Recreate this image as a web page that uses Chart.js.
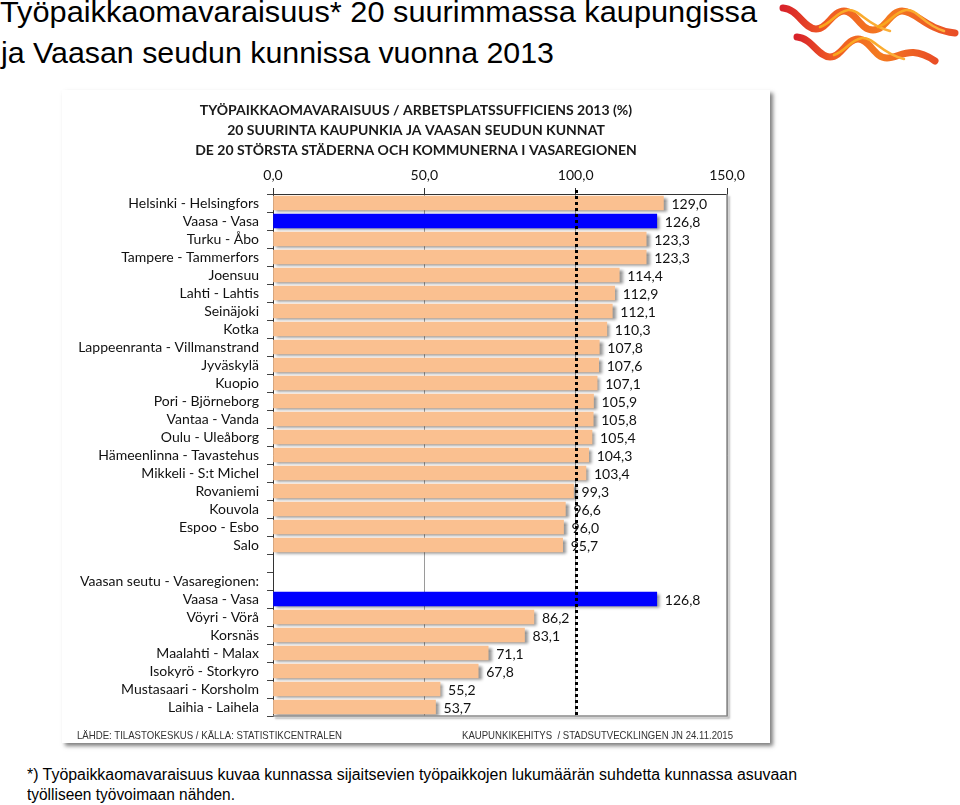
<!DOCTYPE html>
<html><head><meta charset="utf-8">
<script src="https://cdn.jsdelivr.net/npm/chart.js@4.4.1/dist/chart.umd.min.js"></script>
<style>
html,body{margin:0;padding:0;background:#fff;}
body{width:960px;height:805px;position:relative;overflow:hidden;font-family:"Liberation Sans",Arial,sans-serif;}
.t{position:absolute;white-space:nowrap;transform-origin:0 50%;line-height:1;z-index:3;}
#panel{position:absolute;left:62px;top:90px;width:708px;height:653px;background:#fff;box-shadow:3px 3px 4px rgba(0,0,0,0.5);}
#panel canvas{position:absolute;left:0;top:0;}
</style></head><body>
<div class="t" data-w="757" style="left:0;top:-3px;font-size:30px;color:#000">Työpaikkaomavaraisuus* 20 suurimmassa kaupungissa</div>
<div class="t" data-w="553" style="left:1px;top:38px;font-size:30px;color:#000">ja Vaasan seudun kunnissa vuonna 2013</div>
<svg style="position:absolute;left:770px;top:0" width="190" height="75" viewBox="0 0 190 75">
<defs>
<linearGradient id="lg" x1="0" x2="1" y1="0" y2="0"><stop offset="0" stop-color="#d8232a"/><stop offset="0.25" stop-color="#ef5a24"/><stop offset="0.6" stop-color="#f47b20"/><stop offset="1" stop-color="#e94e26"/></linearGradient>
<linearGradient id="ly" x1="0" x2="1" y1="0" y2="0"><stop offset="0" stop-color="#f9a51a"/><stop offset="1" stop-color="#fbb03b"/></linearGradient>
</defs>
<g fill="none" stroke-linecap="round">
<path d="M13,8 C28,9 34,29 46,29 C58,29 62,11 74,11 C86,11 90,30 103,30 C116,30 120,11 132,11 C146,11 156,30 185,33" stroke="url(#lg)" stroke-width="7"/>
<path d="M50,27 C62,23 66,12 78,10 C90,9 96,25 120,31" stroke="url(#ly)" stroke-width="2.5"/>
<path d="M108,27 C120,23 124,12 136,10 C148,9 152,24 174,31" stroke="url(#ly)" stroke-width="2.5"/>
<path d="M27,37 C42,38 48,57 60,57 C72,57 76,39 88,39 C100,39 104,58 117,58 C130,58 140,44 165,61" stroke="url(#lg)" stroke-width="7"/>
<path d="M64,55 C76,51 80,40 92,38 C104,37 110,53 134,59" stroke="url(#ly)" stroke-width="2.5"/>
</g>
</svg>
<div id="panel"><canvas id="c" width="708" height="653"></canvas></div>
<div class="t" data-w="265" style="left:77px;top:730px;font-size:11px;color:#333">LÄHDE: TILASTOKESKUS / KÄLLA: STATISTIKCENTRALEN</div>
<div class="t" data-w="271" style="left:462px;top:730px;font-size:11px;color:#333">KAUPUNKIKEHITYS&nbsp; / STADSUTVECKLINGEN JN 24.11.2015</div>
<div class="t" data-w="770" style="left:27px;top:767px;font-size:16px;color:#000">*) Työpaikkaomavaraisuus kuvaa kunnassa sijaitsevien työpaikkojen lukumäärän suhdetta kunnassa asuvaan</div>
<div class="t" data-w="208" style="left:27px;top:787px;font-size:16px;color:#000">työlliseen työvoimaan nähden.</div>
<script>
const categories = [
  'Helsinki - Helsingfors','Vaasa - Vasa','Turku - Åbo','Tampere - Tammerfors','Joensuu',
  'Lahti - Lahtis','Seinäjoki','Kotka','Lappeenranta - Villmanstrand','Jyväskylä',
  'Kuopio','Pori - Björneborg','Vantaa - Vanda','Oulu - Uleåborg','Hämeenlinna - Tavastehus',
  'Mikkeli - S:t Michel','Rovaniemi','Kouvola','Espoo - Esbo','Salo',
  '','Vaasan seutu - Vasaregionen:',
  'Vaasa - Vasa','Vöyri - Vörå','Korsnäs','Maalahti - Malax','Isokyrö - Storkyro',
  'Mustasaari - Korsholm','Laihia - Laihela'
];
const values = [
  129.0,126.8,123.3,123.3,114.4,
  112.9,112.1,110.3,107.8,107.6,
  107.1,105.9,105.8,105.4,104.3,
  103.4,99.3,96.6,96.0,95.7,
  null,null,
  126.8,86.2,83.1,71.1,67.8,
  55.2,53.7
];
const xTickValues = [0,50,100,150];
const referenceValue = 100;
const titleLines = [
  'TYÖPAIKKAOMAVARAISUUS / ARBETSPLATSSUFFICIENS 2013 (%)',
  '20 SUURINTA KAUPUNKIA JA VAASAN SEUDUN KUNNAT',
  'DE 20 STÖRSTA STÄDERNA OCH KOMMUNERNA I VASAREGIONEN'
];
const highlightName = 'Vaasa - Vasa';

const fmt = v => v.toFixed(1).replace('.', ',');

const decor = {
  id: 'decor',
  beforeDatasetsDraw(chart) {
    const ctx = chart.ctx;
    ctx.save();
    ctx.shadowColor = 'rgba(0,0,0,0.45)';
    ctx.shadowOffsetX = 3;
    ctx.shadowOffsetY = 2;
    ctx.shadowBlur = 3;
  },
  afterDatasetsDraw(chart) {
    const ctx = chart.ctx;
    ctx.restore();
    const a = chart.chartArea;
    const xs = chart.scales.x;
    // plot border right & bottom
    ctx.save();
    ctx.shadowColor = 'rgba(0,0,0,0.35)';
    ctx.shadowOffsetX = 2; ctx.shadowOffsetY = 2; ctx.shadowBlur = 2;
    ctx.strokeStyle = '#8a8a8a'; ctx.lineWidth = 1.5;
    ctx.beginPath();
    ctx.moveTo(a.right, a.top); ctx.lineTo(a.right, a.bottom); ctx.lineTo(a.left, a.bottom);
    ctx.stroke();
    ctx.restore();
    // reference dotted line
    const rx = Math.round(xs.getPixelForValue(referenceValue)) + 0.5;
    ctx.save();
    ctx.strokeStyle = '#000'; ctx.lineWidth = 3; ctx.setLineDash([3, 3]);
    ctx.beginPath(); ctx.moveTo(rx, a.top - 4); ctx.lineTo(rx, a.bottom); ctx.stroke();
    ctx.restore();
    // value labels
    const meta = chart.getDatasetMeta(0);
    ctx.save();
    ctx.font = '14px Lato';
    ctx.fillStyle = '#111';
    ctx.textBaseline = 'middle';
    ctx.textAlign = 'left';
    meta.data.forEach((el, i) => {
      const v = values[i];
      if (v == null) return;
      ctx.fillText(fmt(v), el.x + 8, el.y + 1);
    });
    ctx.restore();
  },
  afterDraw(chart) {
    const ctx = chart.ctx;
    ctx.save();
    ctx.font = 'bold 14px Lato';
    ctx.fillStyle = '#1a1a1a';
    ctx.textAlign = 'center';
    ctx.textBaseline = 'middle';
    titleLines.forEach((line, i) => ctx.fillText(line, chart.width / 2, 20 + i * 20));
    ctx.restore();
  }
};

new Chart(document.getElementById('c'), {
  type: 'bar',
  data: {
    labels: categories,
    datasets: [{
      data: values,
      backgroundColor: categories.map(c => c === highlightName ? '#0000FF' : '#FAC090'),
      borderWidth: 0,
      barThickness: 14
    }]
  },
  options: {
    indexAxis: 'y',
    responsive: false,
    animation: false,
    events: [],
    layout: { padding: { left: 0, right: 43, top: 74, bottom: 27 } },
    plugins: {
      legend: { display: false },
      tooltip: { enabled: false },
      title: { display: false }
    },
    scales: {
      x: {
        position: 'top',
        min: 0, max: 150,
        afterBuildTicks(s) { s.ticks = xTickValues.map(v => ({ value: v })); },
        ticks: { callback: v => fmt(v), font: { family: 'Lato', size: 14 }, color: '#111', padding: 4, maxRotation: 0 },
        grid: { color: '#9a9a9a', tickColor: '#333', tickLength: 6, lineWidth: 1 },
        border: { display: true, color: '#333', width: 1 },
        afterFit(s) { s.height = 30; }
      },
      y: {
        ticks: { font: { family: 'Lato', size: 14 }, color: '#111', padding: 8, autoSkip: false },
        grid: { drawOnChartArea: false, tickLength: 6, tickColor: '#444', offset: true },
        border: { display: true, color: '#333', width: 1 },
        afterFit(s) { s.width = 211; }
      }
    }
  },
  plugins: [decor]
});

document.querySelectorAll('[data-w]').forEach(el => {
  const w = el.getBoundingClientRect().width;
  el.style.transform = 'scaleX(' + (+el.dataset.w / w) + ')';
});
</script>
</body></html>
